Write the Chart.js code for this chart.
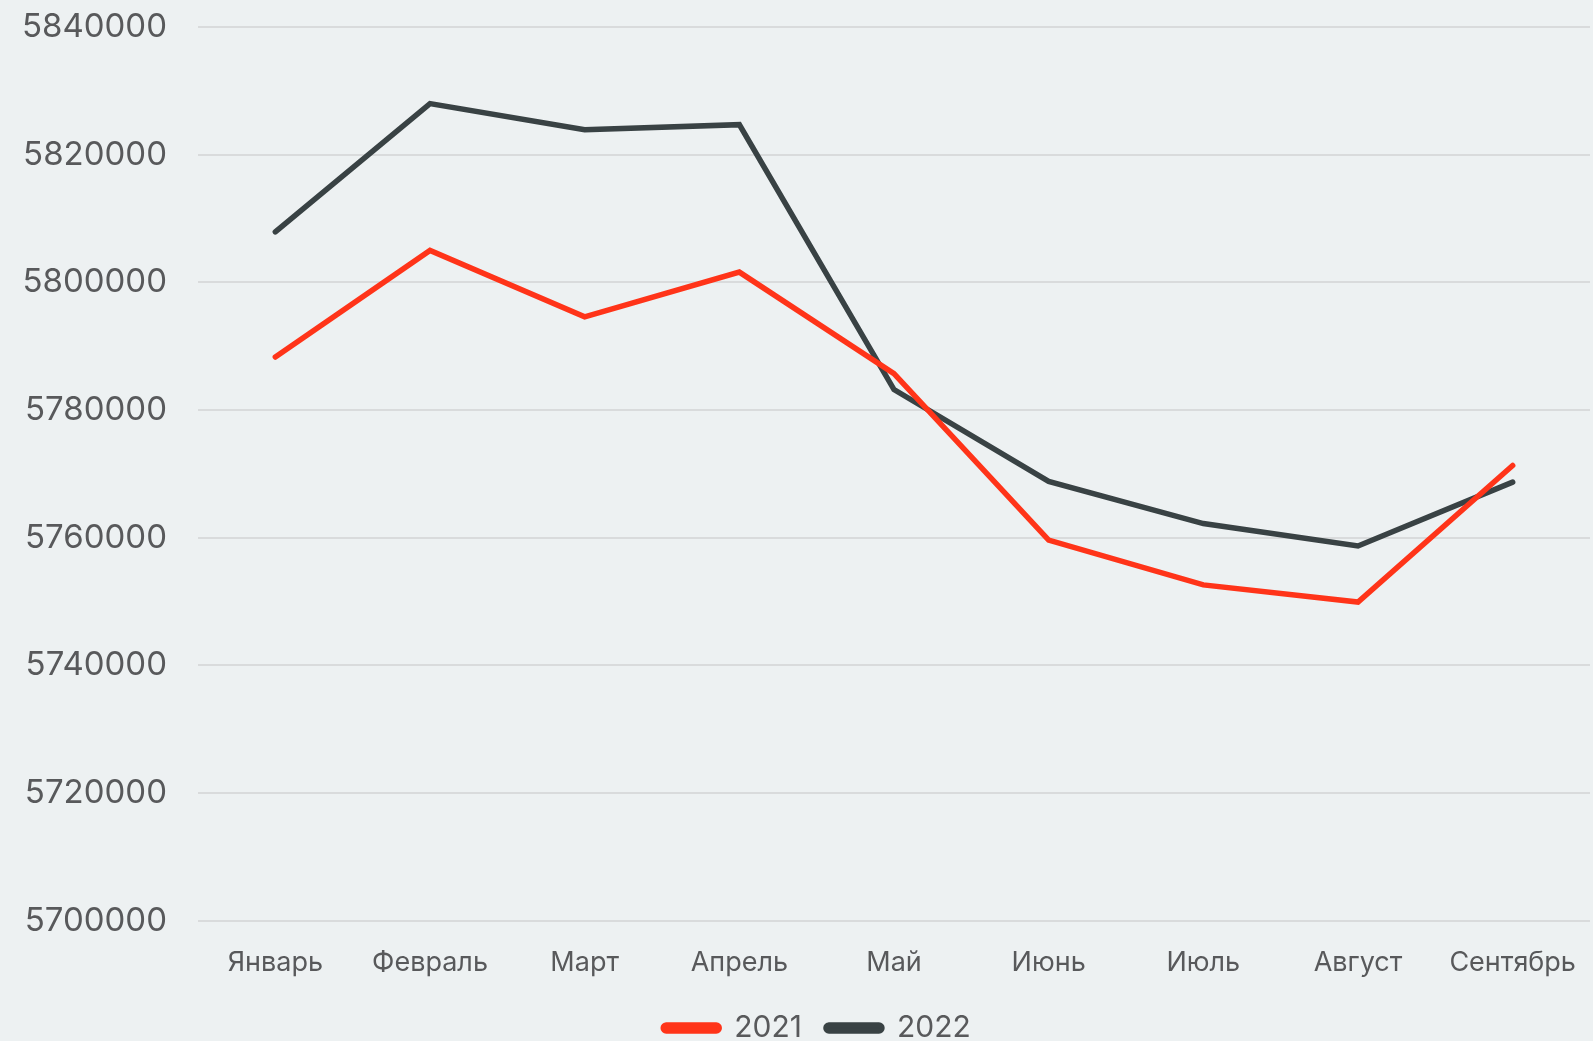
<!DOCTYPE html>
<html>
<head>
<meta charset="utf-8">
<script src="https://cdn.jsdelivr.net/npm/chart.js@4"></script>
<style>
  html, body { margin: 0; padding: 0; background: #edf1f2; }
  #wrap { width: 1593px; height: 1041px; position: relative; }
</style>
</head>
<body>
<div id="wrap"><canvas id="lineChart"></canvas></div>
<script>
// months on the x axis
var months = ["Январь", "Февраль", "Март", "Апрель", "Май", "Июнь", "Июль", "Август", "Сентябрь"];

// values
var data2021 = [5788300, 5805000, 5794600, 5801600, 5785700, 5759600, 5752600, 5749900, 5771300];
var data2022 = [5807900, 5828000, 5823900, 5824700, 5783200, 5768800, 5762200, 5758700, 5768700];

var yMin = 5700000;
var yMax = 5840000;
var yStep = 20000;

var textColor = "#58595b";
var fontFamily = "Inter, 'Noto Sans', sans-serif";

// nudge the legend a bit right, like in the picture
var legendShift = {
  id: 'legendShift',
  afterLayout: function(chart) {
    chart.legend.left += 22;
    chart.legend.right += 22;
  }
};

var ctx = document.getElementById("lineChart");

var lineChart = new Chart(ctx, {
  type: 'line',
  data: {
    labels: months,
    datasets: [{
      label: "2021",
      data: data2021,
      borderColor: "#ff3419",
      backgroundColor: "#ff3419",
      borderWidth: 5.5
    }, {
      label: "2022",
      data: data2022,
      borderColor: "#394244",
      backgroundColor: "#394244",
      borderWidth: 5.5
    }]
  },
  plugins: [legendShift],
  options: {
    responsive: true,
    maintainAspectRatio: false,
    animation: false,
    layout: { padding: { top: 27, right: 3, left: 0, bottom: -12 } },
    elements: {
      point: { radius: 0 },
      line: { tension: 0, borderCapStyle: 'round', borderJoinStyle: 'miter' }
    },
    plugins: {
      tooltip: { enabled: false },
      legend: {
        position: 'bottom',
        labels: {
          color: textColor,
          font: { family: fontFamily, size: 30 },
          boxWidth: 56,
          boxHeight: 6,
          useBorderRadius: true,
          borderRadius: 3,
          padding: 24
        }
      }
    },
    scales: {
      x: {
        offset: true,
        grid: { display: false, drawTicks: false },
        border: { display: false },
        ticks: {
          color: textColor,
          font: { family: fontFamily, size: 27 },
          padding: 26.5,
          maxRotation: 0
        },
        afterFit: function(s) {
          s.height -= 17;
          s.paddingLeft = 0;
          s.paddingRight = 0;
        }
      },
      y: {
        min: yMin,
        max: yMax,
        grid: { color: "#d9dbdc", lineWidth: 2, drawTicks: false },
        border: { display: false },
        ticks: {
          stepSize: yStep,
          color: textColor,
          font: { family: fontFamily, size: 33 },
          padding: 31,
          callback: function(v) { return String(v); }
        },
        afterFit: function(s) {
          s.width = 198;
          s.paddingTop = 0;
          s.paddingBottom = 0;
        }
      }
    }
  }
});
</script>
</body>
</html>
